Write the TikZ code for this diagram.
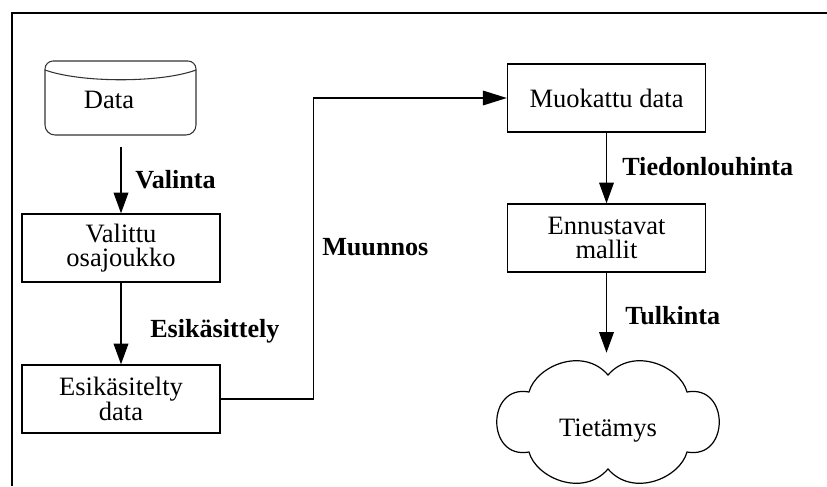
\documentclass[tikz,border=0pt]{standalone}
\usepackage{fontspec}
\setmainfont{Liberation Serif}
\usetikzlibrary{arrows.meta,calc}
\begin{document}
\begin{tikzpicture}[x=0.75pt,y=-0.75pt,
  every node/.style={font=\fontsize{19.9pt}{18pt}\selectfont, inner sep=0pt},
  stagebox/.style={draw, line width=1pt, minimum width=148.5pt, minimum height=51pt, align=center},
  steplabel/.style={font=\fontsize{19.6pt}{18pt}\selectfont\bfseries, anchor=base west},
  flow/.style={line width=1pt, -{Triangle[length=15.5pt,width=11pt]}},
  drumline/.style={draw=black!80, line width=0.8pt},
  cloudline/.style={draw=black, line width=0.9pt},
  frameline/.style={line width=1.5pt}]
\useasboundingbox (0,0) rectangle (827,486);

% open frame: top and left edges
\draw[frameline] (827,13) -- (12,13) -- (12,486);

% source data store (drum shape)
\node[minimum width=113.25pt, minimum height=55.5pt] (data) at (121,98) {};
\node (datatext) at (109,100) {Data};
\begin{scope}[shift={(data.center)}]
  \draw[drumline, rounded corners=6pt] (-76,-28) -- (-76,-37) -- (75,-37) -- (75,-28);
  \draw[drumline] (-76,-28) .. controls (-40,-15) and (40,-15) .. (75,-28);
  \draw[drumline, rounded corners=7.5pt] (-76,-28) -- (-76,37) -- (75,37) -- (75,-28);
\end{scope}

% process stages
\node[stagebox] (valittu) at (121,248) {Valittu\\osajoukko};
\node[stagebox] (esik) at (121,399) {Esikäsitelty\\data};
\node[stagebox] (muok) at (606.5,98) {Muokattu data};
\node[stagebox] (ennu) at (606.5,238) {Ennustavat\\mallit};

% knowledge cloud
\node[minimum width=168.75pt, minimum height=103.5pt] (tiet) at (608,431) {Tietämys};
\begin{scope}[shift={(tiet.center)}, yshift=6.75pt]
  \draw[cloudline]
    (-79,-30) .. controls (-72,-56) and (-25,-76) .. (0,-47)
    .. controls (25,-76) and (72,-56) .. (79,-30)
    .. controls (122,-38) and (122,38) .. (79,30)
    .. controls (72,56) and (25,76) .. (0,47)
    .. controls (-25,76) and (-72,56) .. (-79,30)
    .. controls (-122,38) and (-122,-38) .. (-79,-30) -- cycle;
\end{scope}

% connectors
\draw[flow, shorten <=9pt] (data.south) -- (valittu.north);
\draw[flow] (valittu.south) -- (esik.north);
\draw[line width=1pt, -{Triangle[length=18pt,width=11pt]}] (esik.east) -- ++(93,0) |- (muok.west);
\draw[flow] (muok.south) -- (ennu.north);
\draw[flow, shorten >=6.75pt] (ennu.south) -- (ennu.south |- tiet.north);

% step labels
\node[steplabel] (lvalinta) at (135,188) {Valinta};
\node[steplabel] (lesik) at (150,337) {Esikäsittely};
\node[steplabel] (lmuunnos) at (322,255) {Muunnos};
\node[steplabel] (ltiedon) at (622,175) {Tiedonlouhinta};
\node[steplabel] (ltulkinta) at (625,324) {Tulkinta};
\end{tikzpicture}
\end{document}
